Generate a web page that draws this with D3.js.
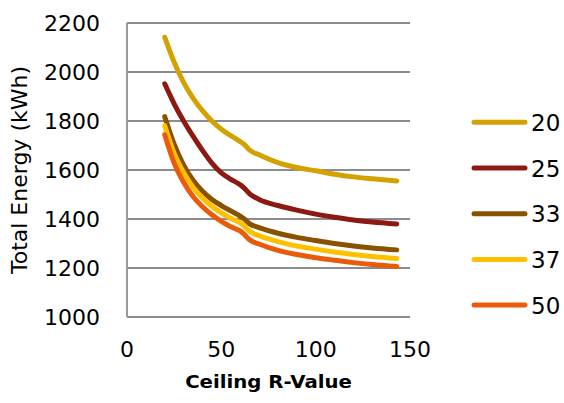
<!DOCTYPE html>
<html>
<head>
<meta charset="utf-8">
<script src="https://cdn.jsdelivr.net/npm/d3@7/dist/d3.min.js"></script>
<style>
  body { margin: 0; background: #ffffff; }
  text { font-family: "DejaVu Sans", sans-serif; fill: #000000; }
</style>
</head>
<body>
<div id="chart"></div>
<script>
// Ceiling R-value on the x axis
var rValues = [20, 25, 30, 35, 40, 45, 50, 55, 60, 62, 65, 70, 80, 90, 100, 110, 120, 130, 143];

// Total energy (kWh) for each series
var series20 = [2142, 2040, 1958, 1893, 1842, 1800, 1766, 1740, 1716, 1705, 1681, 1662, 1630, 1610, 1597, 1583, 1572, 1564, 1555];
var series25 = [1952, 1870, 1800, 1738, 1680, 1628, 1588, 1562, 1540, 1527, 1503, 1480, 1455, 1436, 1420, 1407, 1396, 1388, 1380];
var series33 = [1818, 1705, 1620, 1558, 1513, 1480, 1455, 1433, 1412, 1401, 1380, 1365, 1342, 1325, 1312, 1300, 1290, 1282, 1274];
var series37 = [1781, 1668, 1590, 1530, 1486, 1452, 1425, 1403, 1384, 1372, 1350, 1332, 1308, 1290, 1277, 1265, 1255, 1247, 1239];
var series50 = [1744, 1628, 1550, 1492, 1450, 1417, 1390, 1368, 1351, 1338, 1315, 1298, 1272, 1255, 1242, 1232, 1222, 1214, 1206];

var seriesNames = ['20', '25', '33', '37', '50'];
var seriesColors = ['#D4A200', '#8C1A12', '#8A5100', '#FFC000', '#EA5A0B'];
var allSeries = [series20, series25, series33, series37, series50];

var xTicks = [0, 50, 100, 150];
var yTicks = [1000, 1200, 1400, 1600, 1800, 2000, 2200];

var width = 564;
var height = 403;
var margin = { top: 23, right: 154, bottom: 86, left: 127 };

var xScale = d3.scaleLinear()
    .domain([0, 150])
    .range([margin.left, width - margin.right]);

var yScale = d3.scaleLinear()
    .domain([1000, 2200])
    .range([height - margin.bottom, margin.top]);

var svg = d3.select('#chart').append('svg')
    .attr('width', width)
    .attr('height', height)
    .style('background', '#ffffff');

// horizontal gridlines
svg.append('g').selectAll('line').data(yTicks)
  .enter().append('line')
    .attr('x1', xScale(0))
    .attr('x2', xScale(150))
    .attr('y1', function(d) { return yScale(d); })
    .attr('y2', function(d) { return yScale(d); })
    .attr('stroke', '#8c8c8c')
    .attr('stroke-width', 2);

// left axis line
svg.append('line')
    .attr('x1', xScale(0))
    .attr('x2', xScale(0))
    .attr('y1', yScale(2200))
    .attr('y2', yScale(1000))
    .attr('stroke', '#9a9a9a')
    .attr('stroke-width', 2);

// y tick labels
svg.append('g').selectAll('text').data(yTicks)
  .enter().append('text')
    .attr('x', 100)
    .attr('y', function(d) { return yScale(d); })
    .attr('dy', '0.36em')
    .attr('text-anchor', 'end')
    .style('font-size', '22px')
    .text(function(d) { return d; });

// x tick labels
svg.append('g').selectAll('text').data(xTicks)
  .enter().append('text')
    .attr('x', function(d) { return xScale(d); })
    .attr('y', 356.5)
    .attr('text-anchor', 'middle')
    .style('font-size', '22px')
    .text(function(d) { return d; });

// axis titles
svg.append('text')
    .attr('transform', 'translate(' + ((xScale(0) + xScale(150)) / 2) + ',387.5) scale(1.16,1)')
    .attr('text-anchor', 'middle')
    .style('font-size', '17px')
    .style('font-weight', 'bold')
    .text('Ceiling R-Value');

svg.append('text')
    .attr('transform', 'translate(27,' + ((yScale(1000) + yScale(2200)) / 2) + ') rotate(-90)')
    .attr('text-anchor', 'middle')
    .style('font-size', '22px')
    .text('Total Energy (kWh)');

// series lines
var line = d3.line()
    .x(function(d, i) { return xScale(rValues[i]); })
    .y(function(d) { return yScale(d); })
    .curve(d3.curveMonotoneX);

svg.append('g').selectAll('path').data(allSeries)
  .enter().append('path')
    .attr('d', function(d) { return line(d); })
    .attr('fill', 'none')
    .attr('stroke', function(d, i) { return seriesColors[i]; })
    .attr('stroke-width', 5)
    .attr('stroke-linecap', 'round')
    .attr('stroke-linejoin', 'round');

// legend
var legend = svg.append('g').selectAll('g').data(seriesNames)
  .enter().append('g')
    .attr('transform', function(d, i) { return 'translate(474,' + (122.3 + i * 45.7) + ')'; });

legend.append('line')
    .attr('x1', 0)
    .attr('x2', 51)
    .attr('stroke', function(d, i) { return seriesColors[i]; })
    .attr('stroke-width', 5)
    .attr('stroke-linecap', 'round');

legend.append('text')
    .attr('x', 57)
    .attr('dy', '0.37em')
    .style('font-size', '23px')
    .text(function(d) { return d; });
</script>
</body>
</html>
